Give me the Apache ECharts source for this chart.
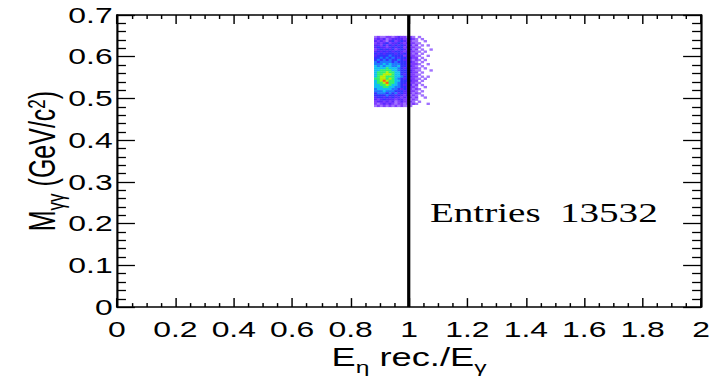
<!DOCTYPE html>
<html>
<head>
<meta charset="utf-8">
<script src="https://cdn.jsdelivr.net/npm/echarts@6/dist/echarts.min.js"></script>
<style>
  html, body { margin: 0; padding: 0; background: #fff; overflow: hidden; }
  /* the original ROOT canvas was squashed vertically, so draw narrow and stretch sideways */
  #main { width: 494px; height: 380px; transform: scaleX(1.4494); transform-origin: 0 0; }
</style>
</head>
<body>
<div id="main"></div>
<script>
// histogram binning
const xStart = 0.88, xBin = 0.01;
const yStart = 0.48, yBin = 0.005;

// bin contents (colour level 0-9), columns x = 0.88 ... 1.08, rows from y = 0.645 down to 0.480
const rows = [
  "121122123221210100000",
  "232312333322321010000",
  "323213423432211001000",
  "232342334323221100000",
  "332424343432312010100",
  "343323434423221100000",
  "234343423432312010010",
  "343434344323221101000",
  "434344434343212010000",
  "344445444423221100100",
  "445454543443322010000",
  "454545445433212101000",
  "545555454443321010000",
  "555656555443222100100",
  "656566556443321010000",
  "666676665434222101000",
  "667777665444321100010",
  "677787766444322010000",
  "677888766434221100000",
  "678877766544322010100",
  "778878765434221101000",
  "678987766444322010000",
  "677897765443221100000",
  "667787665433312010000",
  "666776655443221001000",
  "566666554343212100000",
  "555655544433221010000",
  "455545453433212100000",
  "444454434323121010000",
  "344343433232212001000",
  "323433323322121000000",
  "233232312322210100000",
  "212323212212121000100",
  "121212121211100000000"
];

const xTickLabels = ['0', '0.2', '0.4', '0.6', '0.8', '1', '1.2', '1.4', '1.6', '1.8', '2'];
const yTickLabels = ['0', '0.1', '0.2', '0.3', '0.4', '0.5', '0.6', '0.7'];
const levelColors = ['#a070ff', '#7f3cff', '#5a28ff', '#3232ff', '#1e78ff', '#10c0f0', '#30f070', '#b8f000', '#ff5a1e'];
const cutValue = 1;
const entries = 13532;

const cells = [];
rows.forEach((row, r) => {
  const y = yStart + (rows.length - 1 - r) * yBin;
  for (let c = 0; c < row.length; c++) {
    const v = +row[c];
    if (v > 0) cells.push([xStart + c * xBin, y, v]);
  }
});

const chartDom = document.getElementById('main');
const myChart = echarts.init(chartDom, null, { renderer: 'svg' });

const font = 'Liberation Sans, Arial, Helvetica, sans-serif';
const axisCommon = {
  type: 'value',
  axisLine: { show: true, onZero: false, lineStyle: { color: '#000', width: 1.5 } },
  splitLine: { show: false },
  minorSplitLine: { show: false }
};

const option = {
  animation: false,
  backgroundColor: '#fff',
  grid: { left: 80.7, right: 10.3, top: 15, bottom: 57 },
  visualMap: {
    type: 'piecewise',
    show: false,
    dimension: 2,
    seriesIndex: 0,
    pieces: levelColors.map((c, i) => ({ value: i + 1, color: c }))
  },
  xAxis: [
    Object.assign({}, axisCommon, {
      position: 'bottom', min: 0, max: 2, interval: 0.2,
      axisTick: { show: true, inside: true, length: 9, lineStyle: { color: '#000', width: 1 } },
      minorTick: { show: true, splitNumber: 4, length: 4, lineStyle: { color: '#000', width: 1 } },
      axisLabel: {
        show: true, margin: 11, color: '#000', fontSize: 22, fontFamily: font,
        showMinLabel: true, showMaxLabel: true,
        formatter: (v, i) => xTickLabels[i]
      },
      name: '{a|E}{s|η}{a| rec./E}{s|γ}',
      nameLocation: 'middle',
      nameGap: 18,
      nameTextStyle: {
        color: '#000', fontFamily: font,
        rich: {
          a: { fontSize: 25, lineHeight: 26, verticalAlign: 'top', color: '#000', fontFamily: font },
          s: { fontSize: 17, lineHeight: 17, verticalAlign: 'top', padding: [13, 0, 0, 0], color: '#000', fontFamily: font }
        }
      }
    }),
    Object.assign({}, axisCommon, {
      position: 'top', min: 0, max: 2, interval: 0.2,
      axisTick: { show: true, inside: true, length: 9, lineStyle: { color: '#000', width: 1 } },
      minorTick: { show: true, splitNumber: 4, length: 4, lineStyle: { color: '#000', width: 1 } },
      axisLabel: { show: false }
    })
  ],
  yAxis: [
    Object.assign({}, axisCommon, {
      position: 'left', min: 0, max: 0.7, interval: 0.1,
      axisTick: { show: true, inside: true, length: 12.4, lineStyle: { color: '#000', width: 1.3 } },
      minorTick: { show: true, splitNumber: 5, length: 6.2, lineStyle: { color: '#000', width: 1.3 } },
      axisLabel: {
        show: true, margin: 3, color: '#000', fontSize: 22, fontFamily: font,
        showMinLabel: true, showMaxLabel: true,
        formatter: (v, i) => yTickLabels[i]
      },
      name: '{a|M}{s|γγ}{a| (GeV/c}{p|2}{a|)}',
      nameLocation: 'middle',
      nameRotate: 90,
      nameGap: 38,
      nameMoveOverlap: false,
      nameTextStyle: {
        color: '#000', fontFamily: font,
        rich: {
          a: { fontSize: 25, lineHeight: 26, verticalAlign: 'top', color: '#000', fontFamily: font },
          s: { fontSize: 17, lineHeight: 17, verticalAlign: 'top', padding: [13, 0, 0, 0], color: '#000', fontFamily: font },
          p: { fontSize: 17, lineHeight: 17, verticalAlign: 'top', padding: [0, 0, 0, 0], color: '#000', fontFamily: font }
        }
      }
    }),
    Object.assign({}, axisCommon, {
      position: 'right', min: 0, max: 0.7, interval: 0.1,
      axisTick: { show: true, inside: true, length: 12.4, lineStyle: { color: '#000', width: 1.3 } },
      minorTick: { show: true, splitNumber: 5, length: 6.2, lineStyle: { color: '#000', width: 1.3 } },
      axisLabel: { show: false }
    })
  ],
  series: [
    {
      type: 'custom',
      xAxisIndex: 0,
      yAxisIndex: 0,
      data: cells,
      renderItem: function (params, api) {
        const x = api.value(0), y = api.value(1);
        const p0 = api.coord([x, y + yBin]);
        const p1 = api.coord([x + xBin, y]);
        return {
          type: 'rect',
          shape: { x: p0[0], y: p0[1], width: p1[0] - p0[0] + 0.3, height: p1[1] - p0[1] + 0.3 },
          style: { fill: api.visual('color') }
        };
      },
      silent: true,
      z: 2
    },
    {
      type: 'line',
      xAxisIndex: 0,
      yAxisIndex: 0,
      data: [],
      z: 5,
      markLine: {
        silent: true,
        symbol: ['none', 'none'],
        label: { show: false },
        lineStyle: { color: '#000', width: 2.2, type: 'solid' },
        data: [{ xAxis: cutValue }]
      }
    }
  ],
  graphic: [
    {
      type: 'text', left: 296.6, top: 199,
      style: { text: 'Entries', fill: '#000', font: '27px "Liberation Serif", "Times New Roman", serif' }
    },
    {
      type: 'text', right: 494 - 453.8, top: 199,
      style: { text: String(entries), fill: '#000', font: '27px "Liberation Serif", "Times New Roman", serif' }
    }
  ]
};

option && myChart.setOption(option);
</script>
</body>
</html>
